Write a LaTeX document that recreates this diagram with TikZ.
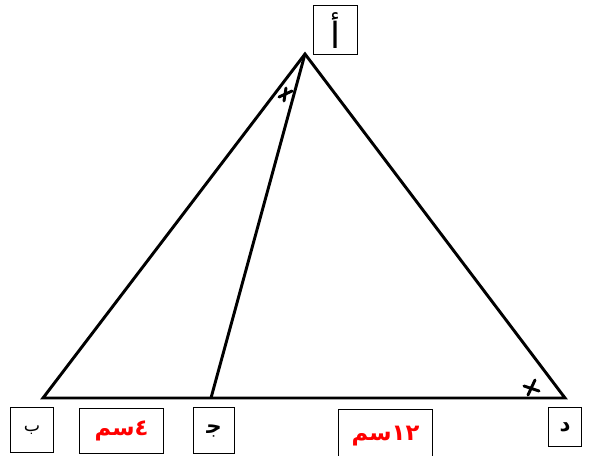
\documentclass[tikz,border=0pt]{standalone}
\usepackage{fontspec}
\newfontfamily\arabicfont[Script=Arabic]{DejaVu Sans}
\TeXXeTstate=1
\begin{document}
\begin{tikzpicture}[x=0.75pt,y=-0.75pt,
  side/.style={line width=2.2pt,line join=miter},
  lbl/.style={draw,line width=0.8pt,inner sep=0pt,anchor=north west},
  tick/.style={line width=2.2pt,line cap=round}]
\useasboundingbox (0,0) rectangle (590,455);
\coordinate (A) at (305,54);
\coordinate (B) at (43,398);
\coordinate (C) at (211,398);
\coordinate (D) at (565,398);
\draw[side] (B) -- (A) -- (D) -- cycle;
\draw[side] (A) -- (C);
% angle marks
\coordinate (m1a) at (279,97);
\coordinate (m1b) at (292,91);
\coordinate (m1c) at (286,88);
\coordinate (m1d) at (284,101);
\draw[tick] (m1a) -- (m1b);
\draw[tick] (m1c) -- (m1d);
\coordinate (m2a) at (524,386);
\coordinate (m2b) at (539,391);
\coordinate (m2c) at (535,380);
\coordinate (m2d) at (528,395);
\draw[tick] (m2a) -- (m2b);
\draw[tick] (m2c) -- (m2d);
% labels
\node[lbl,minimum width=44*0.75pt,minimum height=49*0.75pt] (la) at (313,5) {};
\node at (la.center) {\arabicfont\fontsize{27}{30}\selectfont\beginR أ\endR};
\node[lbl,minimum width=43*0.75pt,minimum height=45*0.75pt] (lb) at (10,407) {};
\node at (lb.center) {\arabicfont\fontsize{13}{16}\selectfont\beginR ب\endR};
\node[lbl,minimum width=84*0.75pt,minimum height=45*0.75pt] (l4) at (79,408) {};
\node[text=red] at (l4.center) {\arabicfont\bfseries\fontsize{17}{20}\selectfont\beginR\beginL ٤\endL{}سم\endR};
\node[lbl,minimum width=41*0.75pt,minimum height=46*0.75pt] (lc) at (193,407) {};
\node at (lc.center) {\arabicfont\bfseries\fontsize{16}{19}\selectfont\beginR ﺟ\endR};
\node[lbl,minimum width=94*0.75pt,minimum height=50*0.75pt] (l12) at (338,409) {};
\node[text=red] at ([yshift=-1pt]l12.center) {\arabicfont\bfseries\fontsize{17}{20}\selectfont\beginR\beginL ١٢\endL{}سم\endR};
\node[lbl,minimum width=33*0.75pt,minimum height=39*0.75pt] (ld) at (548,407) {};
\node at (ld.center) {\arabicfont\bfseries\fontsize{16}{19}\selectfont\beginR د\endR};
\end{tikzpicture}
\end{document}
